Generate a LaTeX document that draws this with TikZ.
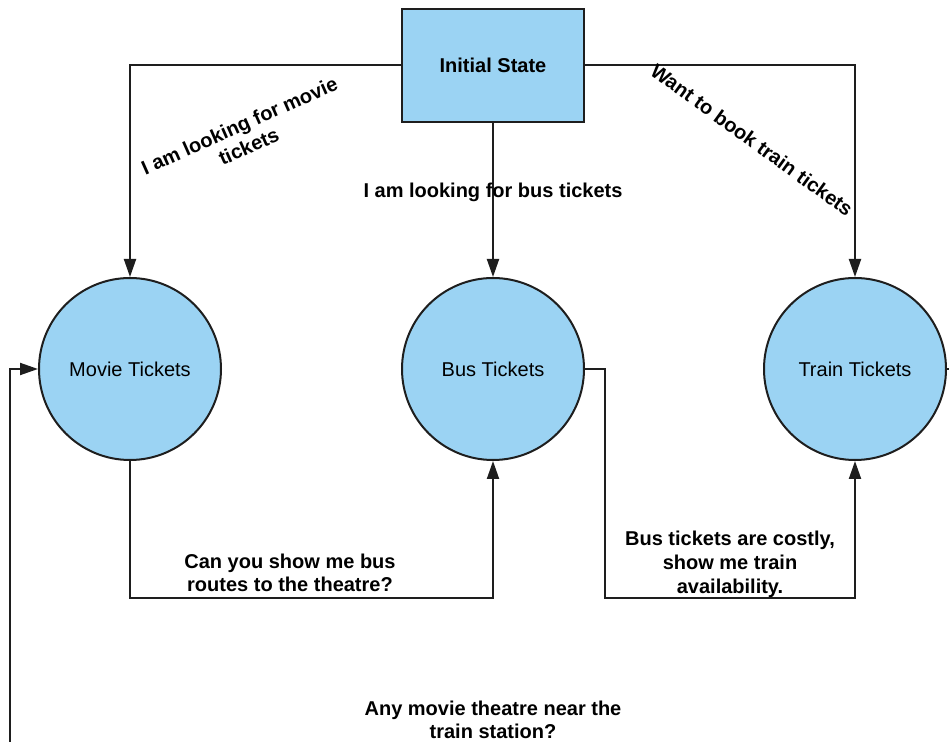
\documentclass[tikz,border=0pt]{standalone}
\usepackage{fontspec}
\setmainfont{Liberation Sans}
\usetikzlibrary{arrows.meta,positioning}
\definecolor{StateBlue}{RGB}{155,211,243}
\definecolor{LineGray}{RGB}{30,30,30}

\begin{document}
\begin{tikzpicture}[x=0.5pt, y=-0.5pt,
  state/.style={draw=LineGray, line width=1pt, fill=StateBlue, circle, minimum size=91pt, inner sep=0pt, font=\fontsize{10}{12}\selectfont},
  start/.style={draw=LineGray, line width=1.2pt, fill=StateBlue, minimum width=91pt, minimum height=56.5pt, font=\fontsize{10}{12}\selectfont\bfseries},
  arr/.style={-{Triangle[length=9pt,width=6pt]}, line width=1pt, LineGray},
  lbl/.style={font=\fontsize{10}{11.5}\selectfont\bfseries, align=center, inner sep=1pt}
]
  \useasboundingbox (0,0) rectangle (949,742);

  \node[start] (init) at (493,65.5) {Initial State};
  \node[state] (movie) at (130,369) {Movie Tickets};
  \node[state] (bus) at (493,369) {Bus Tickets};
  \node[state] (train) at (855,369) {Train Tickets};

  \coordinate (movturn) at (130,598);
  \coordinate (busturn) at (605,598);
  \coordinate (loopin) at (10,742);
  \coordinate (trainout) at (949,369);

  \draw[arr] (init.west) -| (movie.north);
  \draw[arr] (init.south) -- (bus.north);
  \draw[arr] (init.east) -| (train.north);
  \draw[arr] (movie.south) -- (movturn) -| (bus.south);
  \draw[arr] (bus.east) -| (busturn) -| (train.south);
  \draw[arr] (loopin) |- (movie.west);
  \draw[line width=1pt, LineGray] (train.east) -- (trainout);

  % edge labels
  \node[lbl, rotate=24] (lmovie) at (244,136) {I am looking for movie\\tickets};
  \node[lbl] (lbus) at (493,192) {I am looking for bus tickets};
  \node[lbl, rotate=-36] (ltrain) at (752,140) {Want to book train tickets};
  \node[lbl] (lmovbus) at (290,573) {Can you show me bus\\routes to the theatre?};
  \node[lbl, font=\fontsize{10}{12}\selectfont\bfseries] (lbustrain) at (730,564) {Bus tickets are costly,\\show me train\\availability.};
  \node[lbl] (lloop) at (493,720) {Any movie theatre near the\\train station?};
\end{tikzpicture}
\end{document}
